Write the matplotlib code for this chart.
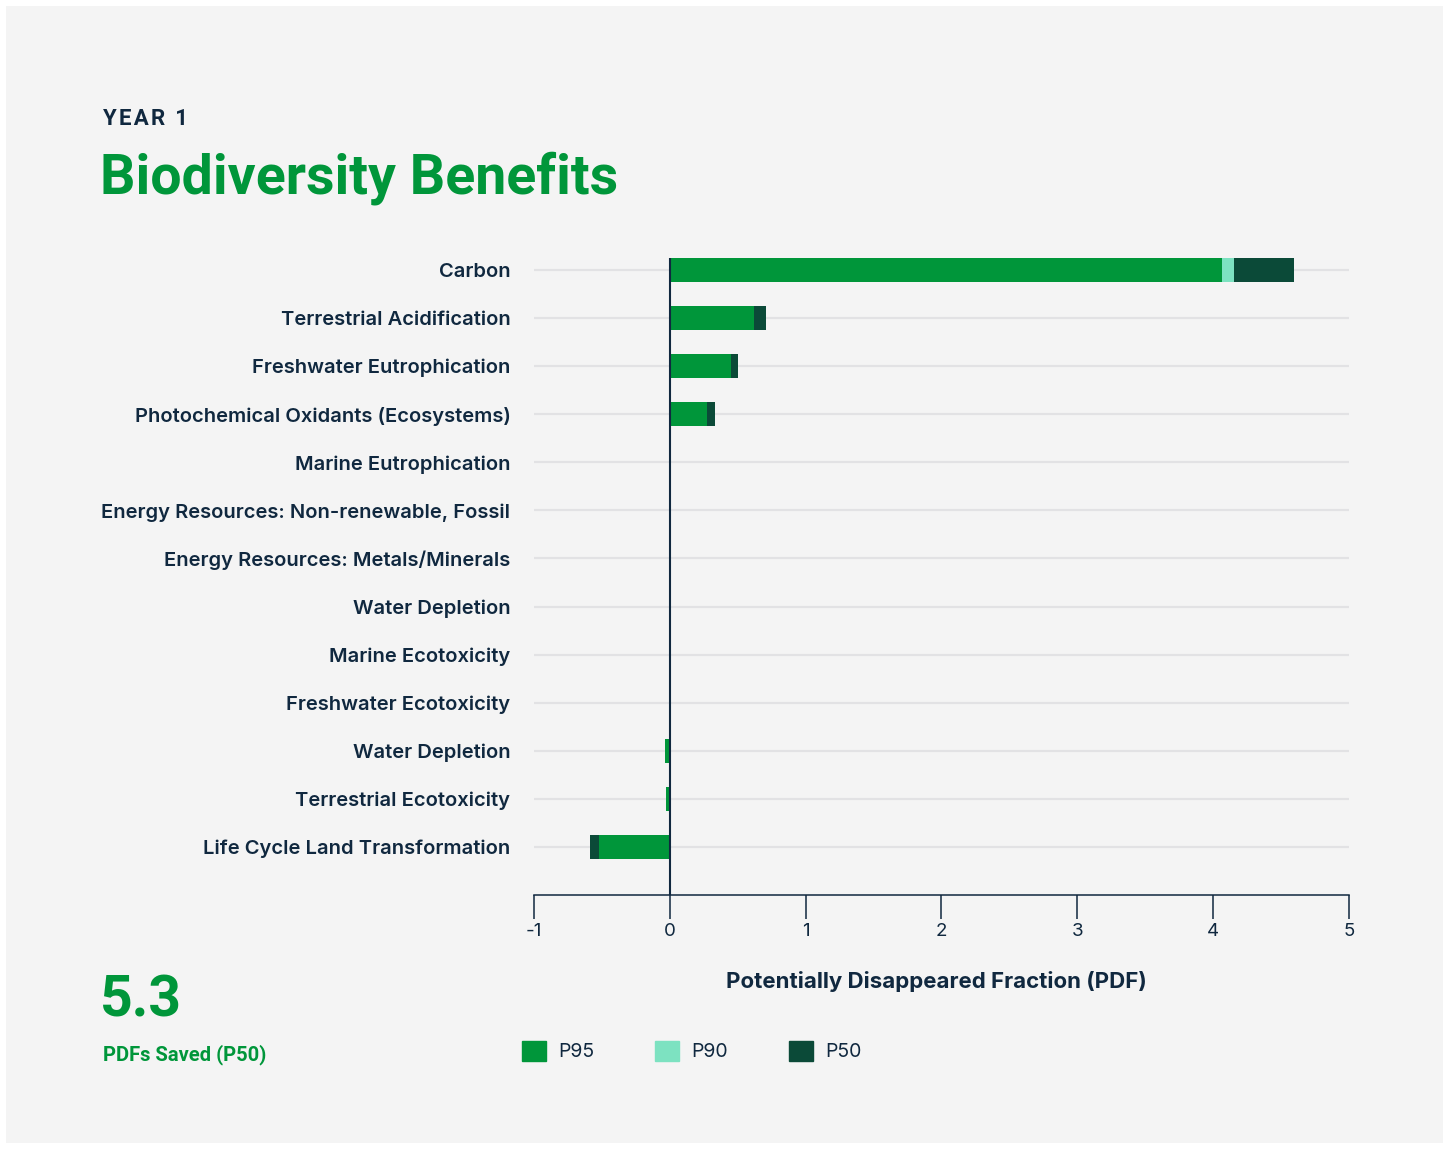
import matplotlib
matplotlib.use("Agg")
import matplotlib.pyplot as plt
from matplotlib.patches import Rectangle, Patch

plt.rcParams['font.family'] = ['Inter', 'DejaVu Sans']

# data (PDF units)
categories = ['Carbon', 'Terrestrial Acidification', 'Freshwater Eutrophication',
              'Photochemical Oxidants (Ecosystems)', 'Marine Eutrophication',
              'Energy Resources: Non-renewable, Fossil', 'Energy Resources: Metals/Minerals',
              'Water Depletion', 'Marine Ecotoxicity', 'Freshwater Ecotoxicity',
              'Water Depletion', 'Terrestrial Ecotoxicity', 'Life Cycle Land Transformation']
p95 = [4.065, 0.62, 0.45, 0.275, 0, 0, 0, 0, 0, 0, -0.037, -0.029, -0.525]
p90 = [4.153, 0.62, 0.45, 0.275, 0, 0, 0, 0, 0, 0, -0.037, -0.029, -0.525]
p50 = [4.595, 0.705, 0.505, 0.33, 0, 0, 0, 0, 0, 0, -0.037, -0.029, -0.585]
xticks = [-1, 0, 1, 2, 3, 4, 5]
total_p50 = '5.3'

GREEN = '#00963a'
LIGHT = '#7de2c1'
DARK = '#0b4a38'
NAVY = '#10283f'
BG = '#f4f4f4'
ROBOTO = ['Roboto', 'DejaVu Sans']

fig = plt.figure(figsize=(14.49, 11.49), dpi=100, facecolor='white')
fig.patches.append(Rectangle((6/1449, 6/1149), 1437/1449, 1137/1149,
                             transform=fig.transFigure, facecolor=BG,
                             edgecolor='none', zorder=-10))

ax = fig.add_axes([534/1449, 1 - 895/1149, 815/1449, 637/1149])
ax.set_facecolor('none')

y = list(range(len(categories)))
for yy in y:
    ax.axhline(yy, color='#e2e2e4', lw=1.6, zorder=0)
ax.barh(y, p50, height=0.5, color=DARK, zorder=2)
ax.barh(y, p90, height=0.5, color=LIGHT, zorder=3)
ax.barh(y, p95, height=0.5, color=GREEN, zorder=4)
ax.axvline(0, color=NAVY, lw=1.5, zorder=5)

ax.set_xlim(-1, 5)
ax.set_ylim(13, -0.25)
ax.set_xticks(xticks)
ax.set_xticklabels([str(t) for t in xticks])
ax.set_yticks(y)
ax.set_yticklabels(categories, fontweight='semibold', fontsize=14.5, color=NAVY)
ax.tick_params(axis='y', length=0, pad=17)
ax.tick_params(axis='x', length=17, width=1.1, color=NAVY, labelcolor=NAVY,
               labelsize=13.5, pad=3)
for s in ['top', 'right', 'left']:
    ax.spines[s].set_visible(False)
ax.spines['bottom'].set_color(NAVY)
ax.spines['bottom'].set_linewidth(1.1)

fig.text(936/1449, 1 - 982/1149, 'Potentially Disappeared Fraction (PDF)',
         ha='center', va='center', fontsize=16, fontweight='bold', color=NAVY)

# header
fig.text(103/1449, 1 - 119/1149, 'Y\u200aE\u200aA\u200aR\u200a \u200a1', ha='left', va='center',
         fontsize=16, fontweight='bold', color=NAVY, family=ROBOTO)
fig.text(100/1449, 1 - 178/1149, 'Biodiversity Benefits', ha='left', va='center',
         fontsize=40, fontweight='bold', color=GREEN, family=ROBOTO)

# summary figure
fig.text(100/1449, 1 - 1001/1149, total_p50, ha='left', va='center',
         fontsize=41, fontweight='bold', color=GREEN, family=ROBOTO)
fig.text(103/1449, 1 - 1055/1149, 'PDFs Saved (P50)', ha='left', va='center',
         fontsize=14.5, fontweight='bold', color=GREEN, family=ROBOTO)

handles = [Patch(color=GREEN, label='P95'), Patch(color=LIGHT, label='P90'),
           Patch(color=DARK, label='P50')]
leg = fig.legend(handles=handles, loc='center left', ncol=3,
                 bbox_to_anchor=(514/1449, 1 - 1051/1149), frameon=False,
                 fontsize=14, handlelength=1.25, handleheight=1.25,
                 handletextpad=0.6, columnspacing=3.15, borderaxespad=0)
for t in leg.get_texts():
    t.set_color(NAVY)

fig.savefig('out.png', dpi=100, facecolor='white')
